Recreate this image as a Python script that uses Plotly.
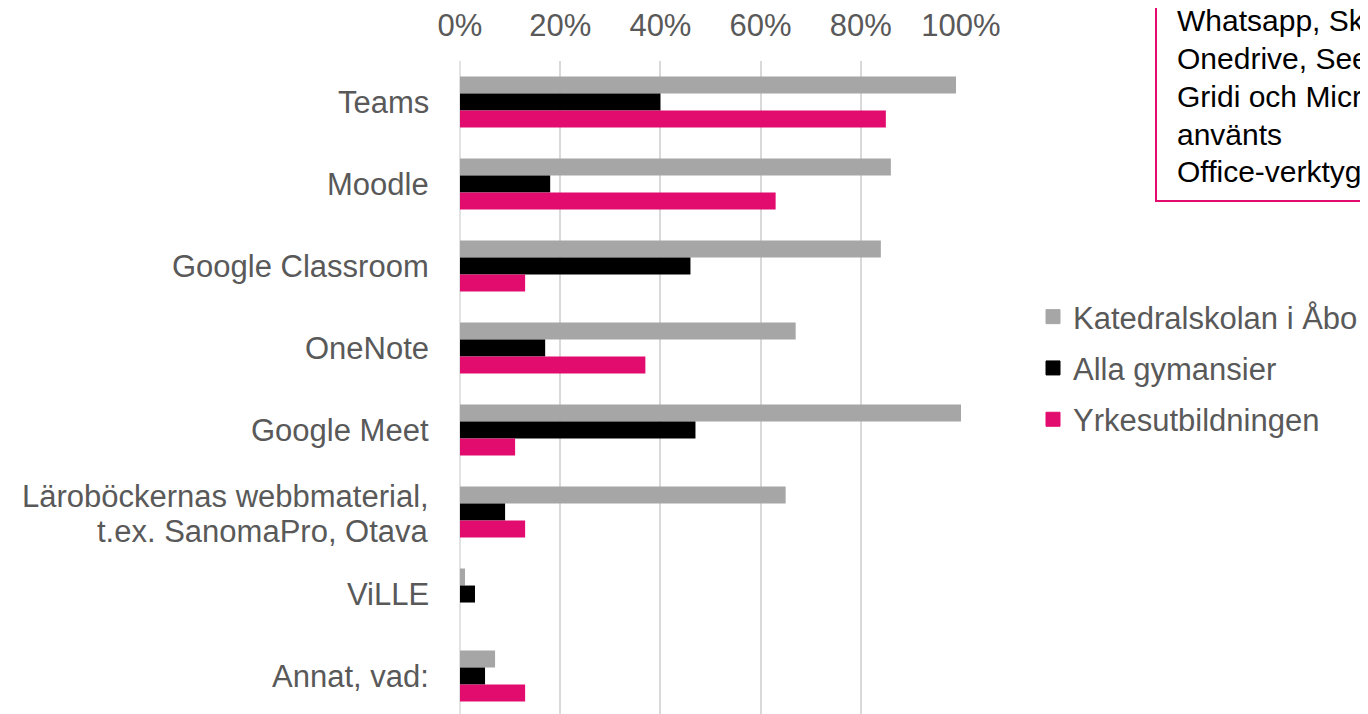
import plotly.graph_objects as go

categories = ["Teams", "Moodle", "Google Classroom", "OneNote", "Google Meet",
              "Läroböckernas webbmaterial,<br>t.ex. SanomaPro, Otava", "ViLLE", "Annat, vad:"]
katedralskolan = [99, 86, 84, 67, 100, 65, 1, 7]
alla_gymnasier = [40, 18, 46, 17, 47, 9, 3, 5]
yrkesutbildningen = [85, 63, 13, 37, 11, 13, 0, 13]
series_names = ["Katedralskolan i Åbo", "Alla gymansier", "Yrkesutbildningen"]
series_colors = ["#A6A6A6", "#000000", "#E20B6E"]
tick_vals = [0, 20, 40, 60, 80, 100]
tick_text = ["0%", "20%", "40%", "60%", "80%", "100%"]
note_lines = ["Whatsapp, Skype,", "Onedrive, Seesaw,", "Gridi och Microsoft", "använts", "Office-verktyg"]

# the page body has an 8px margin, so the figure is drawn 8px in from the window corner
OFF = 8
W, H = 1368 - OFF, 714 - OFF
L, T, B = 460 - OFF, 61 - OFF, 0
R = W - (961 - OFF)
PW, PH = W - L - R, H - T - B

def px(x):  # page x -> paper
    return (x - OFF - L) / PW

def py(y):  # page y -> paper
    return (H - B - (y - OFF)) / PH

fig = go.Figure()
for name, vals, col in zip(series_names, [katedralskolan, alla_gymnasier, yrkesutbildningen], series_colors):
    fig.add_trace(go.Bar(y=categories, x=vals, orientation="h", name=name,
                         marker=dict(color=col, line=dict(width=0)), showlegend=False))
for name, col in zip(series_names, series_colors):
    fig.add_trace(go.Scatter(x=[None], y=[None], mode="markers", name=name, legendgroup=name,
                             marker=dict(symbol="square", size=14, color=col, line=dict(color=col, width=1))))

grey = "#595959"
font_main = "Liberation Sans, Arial, sans-serif"

annotations = []
for cat in categories:
    parts = cat.split("<br>")
    n = len(parts)
    for i, p in enumerate(parts):
        shift = 0 if n == 1 else (16 if i == 0 else -19)
        annotations.append(dict(x=px(431), xref="paper", y=cat, yref="y", text=p, showarrow=False,
                                xanchor="right", yanchor="middle", yshift=shift,
                                font=dict(family=font_main, size=31, color=grey)))

note_y = [20, 58, 96, 134, 172]
for line, yy in zip(note_lines, note_y):
    annotations.append(dict(x=px(1175), xref="paper", y=py(yy), yref="paper", text=line, showarrow=False,
                            xanchor="left", yanchor="middle",
                            font=dict(family=font_main, size=30, color="#000000")))

fig.update_layout(
    width=W, height=H,
    margin=dict(l=L, r=R, t=T, b=B, autoexpand=False),
    paper_bgcolor="white", plot_bgcolor="white",
    barmode="group", bargap=0.378, bargroupgap=0,
    font=dict(family=font_main, color=grey, size=31),
    xaxis=dict(side="top", range=[0, 100], tickmode="array", tickvals=tick_vals, ticktext=tick_text,
               showgrid=True, gridcolor="#D9D9D9", gridwidth=1.5,
               zeroline=False, showline=False, ticks="",
               tickfont=dict(size=31, color=grey), ticklabelstandoff=18),
    yaxis=dict(range=[7.463, -0.5], showticklabels=False, showgrid=False, zeroline=False,
               showline=False, ticks=""),
    legend=dict(x=px(1033), y=py(290), xanchor="left", yanchor="top",
                font=dict(size=31, color=grey), tracegroupgap=8, bgcolor="rgba(0,0,0,0)"),
    shapes=[dict(type="line", xref="paper", yref="paper", x0=0, x1=0, y0=0, y1=1,
                 line=dict(color="#D9D9D9", width=1.5), layer="below"),
            dict(type="rect", xref="paper", yref="paper", x0=px(1156), x1=px(1600), y0=py(201), y1=py(-40),
                 line=dict(color="#E20B6E", width=2))],
    annotations=annotations,
)

fig.write_html("out.html")
